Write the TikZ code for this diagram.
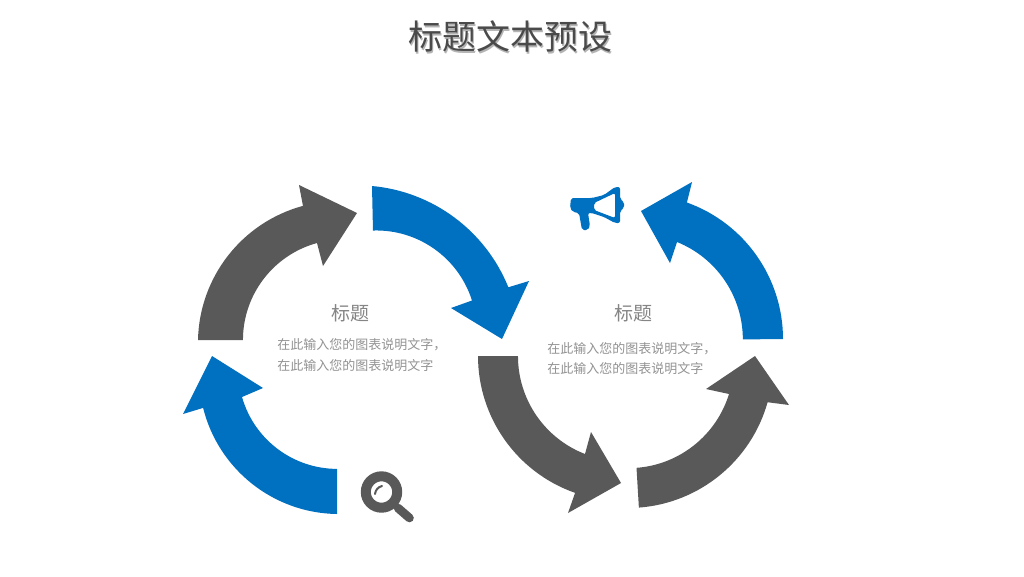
\documentclass[tikz,border=0pt]{standalone}
\usepackage{fontspec}
\setmainfont{Noto Sans CJK SC}
\definecolor{arrowblue}{HTML}{0070C0}
\definecolor{arrowgray}{HTML}{595959}
\definecolor{titlegray}{HTML}{4A4A4A}
\definecolor{shadowgray}{HTML}{B4B4B4}
\definecolor{headgray}{HTML}{858585}
\definecolor{bodygray}{HTML}{939393}
\tikzset{
  bluearrow/.style={fill=arrowblue},
  grayarrow/.style={fill=arrowgray},
  maintitle/.style={font=\fontsize{25.5pt}{30pt}\selectfont,inner sep=0pt},
  subhead/.style={text=headgray,font=\fontsize{14.25pt}{17pt}\selectfont,inner sep=0pt},
  bodytext/.style={text=bodygray,font=\fontsize{9.75pt}{15.4pt}\selectfont,inner sep=0pt,align=left,anchor=west},
}
\begin{document}
\begin{tikzpicture}[x=.75pt,y=.75pt]
\useasboundingbox (0,0) rectangle (1024,-576);
\fill[white] (0,0) rectangle (1024,-576);
% titles
\node[maintitle,text=shadowgray] (titleshadow) at (511.5,-38.5) {标题文本预设};
\node[maintitle,text=titlegray] (title) at (510,-37) {标题文本预设};
\node[subhead] (headleft) at (350,-313) {标题};
\node[subhead] (headright) at (633,-313) {标题};
\node[bodytext] (bodyleft) at (277,-355) {在此输入您的图表说明文字，\\在此输入您的图表说明文字};
\node[bodytext] (bodyright) at (547,-358.5) {在此输入您的图表说明文字，\\在此输入您的图表说明文字};
% left ring: outer arc, head, inner arc (inner circle has its own centre)
\fill[grayarrow] (198,-340) arc[start angle=178.8,end angle=105.1,radius=142]
  -- (299,-185) -- (357,-213) -- (323,-266) -- (317,-243)
  arc[start angle=105.3,end angle=180,radius=100.6] -- cycle;
\fill[bluearrow] (372,-186) arc[start angle=84.8,end angle=22,radius=163]
  -- (529,-281) -- (502,-339) -- (451,-308) -- (472,-300.5)
  arc[start angle=17.6,end angle=91.9,radius=100.4] -- cycle;
\fill[bluearrow] (337,-514) arc[start angle=269.2,end angle=194,radius=140]
  -- (183,-414) -- (212,-356) -- (263,-388) -- (242,-397)
  arc[start angle=195.9,end angle=270,radius=99] -- cycle;
% right ring
\fill[grayarrow] ([shift={(180:145)}]623,-356) arc[start angle=180,end angle=250.7,radius=145]
  -- (568,-513) -- (621,-483) -- (591,-432) -- (585,-454)
  arc[start angle=248.8,end angle=180,radius=105] -- cycle;
\fill[grayarrow] ([shift={(-85.7:145)}]628,-363) arc[start angle=-85.7,end angle=-15.7,radius=145]
  -- (789,-405) -- (755,-356) -- (706,-389) -- (729,-394)
  arc[start angle=-17.1,end angle=-85.7,radius=105] -- cycle;
\fill[bluearrow] ([shift={(0:145)}]638,-339) arc[start angle=0,end angle=70.3,radius=145]
  -- (692,-182) -- (641,-211) -- (670,-263) -- (677,-242)
  arc[start angle=68.1,end angle=0,radius=105] -- cycle;
% magnifier
\draw[arrowgray,line width=7.5pt] (381.5,-492) circle[radius=15.7];
\draw[arrowgray,line width=6.5pt,line cap=round] (398,-508) -- (409.5,-518);
\draw[arrowgray,line width=1.5pt,line cap=round] (375,-494) .. controls (375.5,-490) and (378,-487) .. (382,-486);
% megaphone
\fill[arrowblue,even odd rule,rounded corners=1.5pt]
  (571,-198) -- (592,-198) -- (604,-195) -- (615,-187) -- (620,-187) -- (620,-199) -- (624,-202) -- (624,-208) -- (620,-211) -- (620,-223) -- (615,-223)
  -- (604,-217) -- (592,-213) -- (588,-213) -- (590,-226) -- (588,-230) -- (582,-230) -- (579,-213) -- (573,-212) -- (570,-208) -- cycle
  (594,-203) -- (615,-193) -- (615,-218) -- (594,-210) -- cycle;
\end{tikzpicture}
\end{document}
